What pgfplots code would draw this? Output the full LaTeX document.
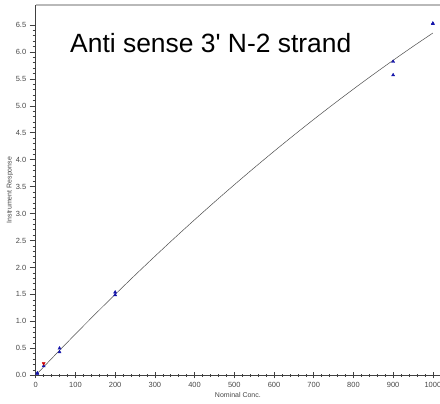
\documentclass[border=0pt]{standalone}
\usepackage{pgfplots}
\pgfplotsset{compat=1.18}
\usepackage{fontspec}
\setmainfont{Liberation Sans}
\definecolor{navy}{RGB}{20,20,170}
\definecolor{lbl}{RGB}{70,70,70}
\begin{document}
\begin{tikzpicture}
\begin{axis}[
  scale only axis,
  width=404bp, height=370bp,
  xmin=0, xmax=1018, ymin=0, ymax=6.87,
  axis x line*=bottom, axis y line*=left,
  axis line style={black!75, line width=0.5pt},
  xtick={0,100,...,1000},
  ytick={0,0.5,...,6.5},
  minor x tick num=4, minor y tick num=4,
  xticklabel style={/pgf/number format/.cd, 1000 sep={}},
  yticklabel style={/pgf/number format/.cd, fixed, fixed zerofill, precision=1},
  /pgf/number format/assume math mode=true,
  ticklabel style={font=\fontsize{7.5}{9}\selectfont, text=lbl},
  x tick style={black!75, line width=0.5pt},
  y tick style={black!75, line width=0.5pt},
  xtick align=center,
  ytick align=outside,
  major tick length=6bp,
  minor tick length=3bp,
  xlabel={Nominal Conc.},
  ylabel={Instrument Response},
  label style={font=\fontsize{7}{8}\selectfont, text=lbl},
  xlabel style={yshift=1bp},
  ylabel style={yshift=-4bp},
  clip=false,
]
\draw[gray!55, line width=1.6pt] (rel axis cs:0,1) -- (rel axis cs:1,1);
\addplot[black!70, line width=0.5pt, smooth] coordinates {
(3,0.023) (50,0.3858) (100,0.7644) (150,1.1358) (200,1.5000) (250,1.8570) (300,2.2069)
(350,2.5495) (400,2.8850) (450,3.2133) (500,3.5344) (550,3.8483) (600,4.1550)
(650,4.4545) (700,4.7469) (750,5.0320) (800,5.3100) (850,5.5808) (900,5.8444)
(950,6.1008) (1000,6.3500)};
\addplot[only marks, mark=triangle*, mark size=1.8bp, navy] coordinates {
(4,0.03) (4,0.04) (20,0.17) (60,0.43) (60,0.50) (200,1.49) (200,1.54)
(900,5.82) (900,5.57) (1000,6.52) (1000,6.53)};
\addplot[only marks, mark=triangle*, mark size=1.8bp, red!80!black, mark options={rotate=180}] coordinates {
(20,0.22)};
\node[anchor=west, font=\fontsize{26.5}{30}\selectfont] at (axis cs:78,6.17) {Anti sense 3\textquotesingle{} N-2 strand};
\end{axis}
\pgfresetboundingbox
\path[use as bounding box] ([shift={(-35.7bp,-28bp)}]current axis.south west) rectangle ([shift={(0bp,5bp)}]current axis.north east);
\end{tikzpicture}
\end{document}
